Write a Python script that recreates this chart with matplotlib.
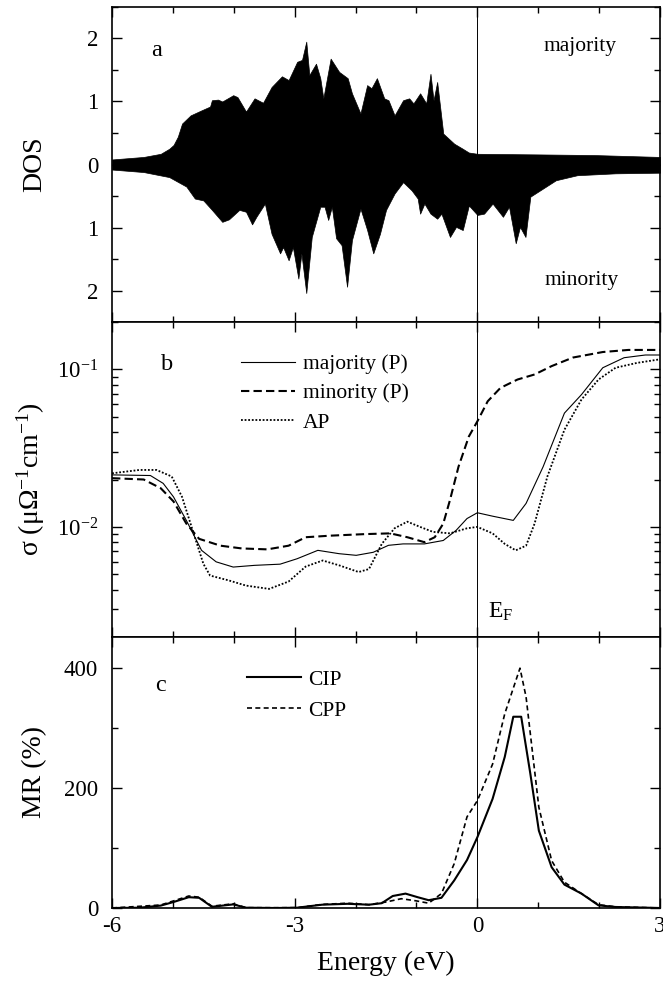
import numpy as np
import matplotlib
matplotlib.use("Agg")
import matplotlib.pyplot as plt
from matplotlib.ticker import MultipleLocator, FuncFormatter, LogLocator, NullFormatter

plt.rcParams["font.family"] = ["Liberation Serif", "DejaVu Serif"]
plt.rcParams["mathtext.fontset"] = "custom"
plt.rcParams["mathtext.rm"] = "Liberation Serif"
plt.rcParams["mathtext.it"] = "Liberation Serif:italic"
plt.rcParams["mathtext.default"] = "regular"
plt.rcParams["axes.unicode_minus"] = False

# ---------------------------
# Panel a: DOS (majority up, minority down)
# ---------------------------
e_maj = [-6.0, -5.48, -5.2, -5.06, -4.99, -4.92, -4.85, -4.71, -4.53, -4.39, -4.36, -4.26,
         -4.19, -4.01, -3.94, -3.80, -3.66, -3.52, -3.38, -3.21, -3.10, -2.96, -2.88, -2.81,
         -2.76, -2.65, -2.58, -2.53, -2.41, -2.27, -2.13, -2.06, -1.92, -1.81, -1.74, -1.65,
         -1.53, -1.46, -1.36, -1.22, -1.12, -1.05, -0.94, -0.84, -0.77, -0.72, -0.66, -0.56,
         -0.38, -0.24, -0.14, 0.0, 1.01, 1.92, 3.0]
dos_maj = [0.08, 0.12, 0.17, 0.25, 0.31, 0.44, 0.65, 0.78, 0.86, 0.92, 1.02, 1.03,
           1.0, 1.1, 1.07, 0.84, 1.05, 0.98, 1.23, 1.40, 1.34, 1.63, 1.66, 1.95,
           1.42, 1.60, 1.37, 1.05, 1.68, 1.47, 1.37, 1.13, 0.81, 1.26, 1.21, 1.37,
           1.05, 1.02, 0.78, 1.02, 1.05, 0.97, 1.13, 0.97, 1.44, 1.02, 1.31, 0.49,
           0.33, 0.25, 0.19, 0.17, 0.16, 0.15, 0.12]

e_min = [-6.0, -5.48, -5.06, -4.78, -4.64, -4.50, -4.36, -4.19, -4.08, -3.91, -3.80, -3.70,
         -3.63, -3.49, -3.38, -3.24, -3.19, -3.10, -3.03, -2.94, -2.89, -2.81, -2.72, -2.58,
         -2.51, -2.45, -2.39, -2.32, -2.23, -2.14, -2.06, -1.92, -1.81, -1.71, -1.60, -1.50,
         -1.36, -1.22, -1.08, -0.98, -0.94, -0.87, -0.77, -0.66, -0.59, -0.45, -0.35, -0.24,
         -0.14, 0.0, 0.11, 0.25, 0.42, 0.52, 0.63, 0.70, 0.79, 0.87, 1.08, 1.29, 1.64, 2.27, 3.0]
dos_min = [0.08, 0.12, 0.20, 0.35, 0.54, 0.57, 0.72, 0.91, 0.87, 0.72, 0.75, 0.95,
           0.83, 0.62, 1.10, 1.41, 1.31, 1.52, 1.31, 1.81, 1.41, 2.04, 1.15, 0.67,
           0.67, 0.88, 0.67, 1.17, 1.28, 1.94, 1.20, 0.70, 1.04, 1.41, 1.10, 0.72,
           0.46, 0.28, 0.41, 0.54, 0.78, 0.62, 0.78, 0.86, 0.78, 1.15, 0.99, 1.04,
           0.65, 0.80, 0.78, 0.62, 0.83, 0.67, 1.25, 0.99, 1.15, 0.51, 0.38, 0.25, 0.17, 0.14, 0.13]

# ---------------------------
# Panel b: conductivity (log)
# ---------------------------
e_sig_maj = [-6.0, -5.37, -5.16, -4.99, -4.78, -4.53, -4.29, -4.01, -3.66, -3.24, -2.96, -2.62,
             -2.27, -1.99, -1.71, -1.46, -1.22, -0.87, -0.56, -0.35, -0.17, 0.0, 0.25, 0.59,
             0.80, 1.08, 1.43, 1.71, 2.06, 2.41, 2.76, 3.0]
sig_maj = [0.0214, 0.0212, 0.0189, 0.0155, 0.0110, 0.0071, 0.0060, 0.00556, 0.0057, 0.0058,
           0.00628, 0.0071, 0.00676, 0.0066, 0.0069, 0.00764, 0.0078, 0.0078, 0.0082, 0.0095,
           0.0113, 0.0123, 0.0117, 0.0110, 0.0141, 0.0241, 0.0528, 0.0692, 0.1025, 0.1187,
           0.1235, 0.1235]

e_sig_min = [-6.0, -5.48, -5.20, -4.99, -4.78, -4.57, -4.22, -3.87, -3.45, -3.10, -2.82, -2.41,
             -1.85, -1.43, -1.15, -0.87, -0.70, -0.56, -0.45, -0.31, -0.14, 0.0, 0.17, 0.38,
             0.66, 0.94, 1.22, 1.57, 2.06, 2.48, 3.0]
sig_min = [0.0204, 0.0200, 0.0176, 0.0145, 0.0105, 0.0084, 0.0076, 0.0073, 0.0072, 0.0076,
           0.0086, 0.0088, 0.0090, 0.0091, 0.0086, 0.0080, 0.0086, 0.0105, 0.0148, 0.0241,
           0.0375, 0.0468, 0.0628, 0.0764, 0.0863, 0.0929, 0.105, 0.119, 0.129, 0.133, 0.133]

e_sig_ap = [-6.0, -5.55, -5.27, -5.02, -4.85, -4.64, -4.50, -4.39, -4.08, -3.80, -3.42, -3.10,
            -2.82, -2.54, -2.27, -1.95, -1.78, -1.57, -1.36, -1.15, -0.94, -0.73, -0.45, -0.17,
            0.0, 0.25, 0.45, 0.63, 0.80, 0.94, 1.15, 1.43, 1.71, 1.99, 2.27, 2.62, 3.0]
sig_ap = [0.0219, 0.0230, 0.0230, 0.0209, 0.0155, 0.0086, 0.00583, 0.00491, 0.00457, 0.00424,
          0.00404, 0.0045, 0.0056, 0.00612, 0.0057, 0.00517, 0.0054, 0.0078, 0.0098, 0.0108,
          0.0100, 0.0093, 0.0091, 0.0098, 0.0100, 0.0091, 0.0078, 0.0071, 0.0076, 0.0105,
          0.0209, 0.0414, 0.0644, 0.0863, 0.1025, 0.110, 0.116]

# ---------------------------
# Panel c: MR
# ---------------------------
e_cip = [-6.0, -5.55, -5.2, -4.99, -4.74, -4.57, -4.36, -4.01, -3.80, -3.31, -2.96, -2.55,
         -2.13, -1.78, -1.57, -1.39, -1.18, -0.98, -0.80, -0.59, -0.38, -0.17, 0.0, 0.25,
         0.45, 0.59, 0.72, 0.87, 1.01, 1.22, 1.43, 1.71, 1.99, 2.27, 3.0]
mr_cip = [0, 0.5, 4, 10, 18, 17, 2, 6, 0.5, 0, 0.5, 5.5,
          7, 5.5, 8, 20, 24, 18, 13, 17, 46, 80, 118, 182,
          252, 319, 319, 224, 129, 68, 39, 24, 4.4, 1.7, 0]

e_cpp = [-6.0, -5.2, -4.74, -4.57, -4.36, -4.01, -3.80, -2.96, -2.55, -2.13, -1.78, -1.50,
         -1.25, -1.01, -0.80, -0.59, -0.38, -0.17, 0.0, 0.25, 0.45, 0.70, 0.80, 1.01,
         1.22, 1.43, 1.71, 1.99, 2.27, 3.0]
mr_cpp = [0, 5, 20, 18, 3, 7, 0.5, 0.5, 6, 8, 5.5, 10,
          15.5, 12, 8, 24, 74, 152, 179, 240, 324, 400, 352, 168,
          79, 43, 24, 5.5, 2, 0]

fig = plt.figure(figsize=(6.63, 9.83), dpi=100)
left, width = 0.169, 0.8265
ax_a = fig.add_axes([left, 0.6724, width, 0.3205])
ax_b = fig.add_axes([left, 0.352, width, 0.3204], sharex=ax_a)
ax_c = fig.add_axes([left, 0.0763, width, 0.2757], sharex=ax_a)

tick_fs = 16.5
label_fs = 20
text_fs = 15.5

for ax in (ax_a, ax_b, ax_c):
    ax.tick_params(which="both", direction="in", top=True, right=True, labelsize=tick_fs)
    ax.tick_params(which="major", length=7, width=1)
    ax.tick_params(which="minor", length=4, width=1)
    ax.tick_params(axis="y", which="both", pad=10)
    ax.tick_params(axis="x", which="both", pad=6)
    for s in ax.spines.values():
        s.set_linewidth(1.2)
    ax.axvline(0, color="black", lw=0.7)
    ax.yaxis.set_label_coords(-0.118, 0.5)

# a
ax_a.fill_between(e_maj, 0, dos_maj, color="black", lw=0.5)
ax_a.fill_between(e_min, 0, -np.array(dos_min), color="black", lw=0.5)
ax_a.set_xlim(-6, 3)
ax_a.set_ylim(-2.5, 2.5)
ax_a.yaxis.set_major_locator(MultipleLocator(1))
ax_a.yaxis.set_minor_locator(MultipleLocator(0.5))
ax_a.yaxis.set_major_formatter(FuncFormatter(lambda v, p: "%d" % abs(round(v))))
ax_a.xaxis.set_major_locator(MultipleLocator(3))
ax_a.xaxis.set_minor_locator(MultipleLocator(1))
ax_a.set_ylabel("DOS", fontsize=label_fs)
ax_a.text(-5.27, 1.81, "a", fontsize=text_fs + 2, ha="center", va="center")
ax_a.text(1.68, 1.87, "majority", fontsize=text_fs, ha="center", va="center")
ax_a.text(1.71, -1.84, "minority", fontsize=text_fs, ha="center", va="center")
plt.setp(ax_a.get_xticklabels(), visible=False)

# b
ax_b.semilogy(e_sig_maj, sig_maj, color="black", lw=0.8, label="majority (P)")
ax_b.semilogy(e_sig_min, sig_min, color="black", lw=1.5, ls=(0, (4, 2)), label="minority (P)")
ax_b.semilogy(e_sig_ap, sig_ap, color="black", lw=1.3, ls=(0, (1, 1)), label="AP")
ax_b.set_ylim(0.002, 0.2)
ax_b.yaxis.set_major_locator(LogLocator(base=10, numticks=10))
ax_b.yaxis.set_minor_locator(LogLocator(base=10, subs=np.arange(2, 10), numticks=20))
ax_b.yaxis.set_minor_formatter(NullFormatter())
ax_b.set_ylabel("σ (μΩ$^{-1}$cm$^{-1}$)", fontsize=label_fs)
ax_b.text(-5.09, 0.107, "b", fontsize=text_fs + 2, ha="center", va="center")
ax_b.text(0.38, 0.0029, "E$_{F}$", fontsize=17, ha="center", va="center")
ax_b.legend(loc="upper left", bbox_to_anchor=(0.22, 0.925), frameon=False, fontsize=text_fs,
            handlelength=2.5, handletextpad=0.35, labelspacing=0.42, borderaxespad=0)
plt.setp(ax_b.get_xticklabels(), visible=False)

# c
ax_c.plot(e_cip, mr_cip, color="black", lw=1.5, label="CIP")
ax_c.plot(e_cpp, mr_cpp, color="black", lw=1.2, ls=(0, (3, 2)), label="CPP")
ax_c.set_ylim(0, 452)
ax_c.yaxis.set_major_locator(MultipleLocator(200))
ax_c.yaxis.set_minor_locator(MultipleLocator(100))
ax_c.set_ylabel("MR (%)", fontsize=label_fs)
ax_c.set_xlabel("Energy (eV)", fontsize=label_fs, labelpad=10)
ax_c.text(-5.2, 371, "c", fontsize=text_fs + 2, ha="center", va="center")
ax_c.legend(loc="upper left", bbox_to_anchor=(0.23, 0.911), frameon=False, fontsize=text_fs,
            handlelength=2.5, handletextpad=0.35, labelspacing=0.5, borderaxespad=0)

fig.savefig("out.png", dpi=100)
